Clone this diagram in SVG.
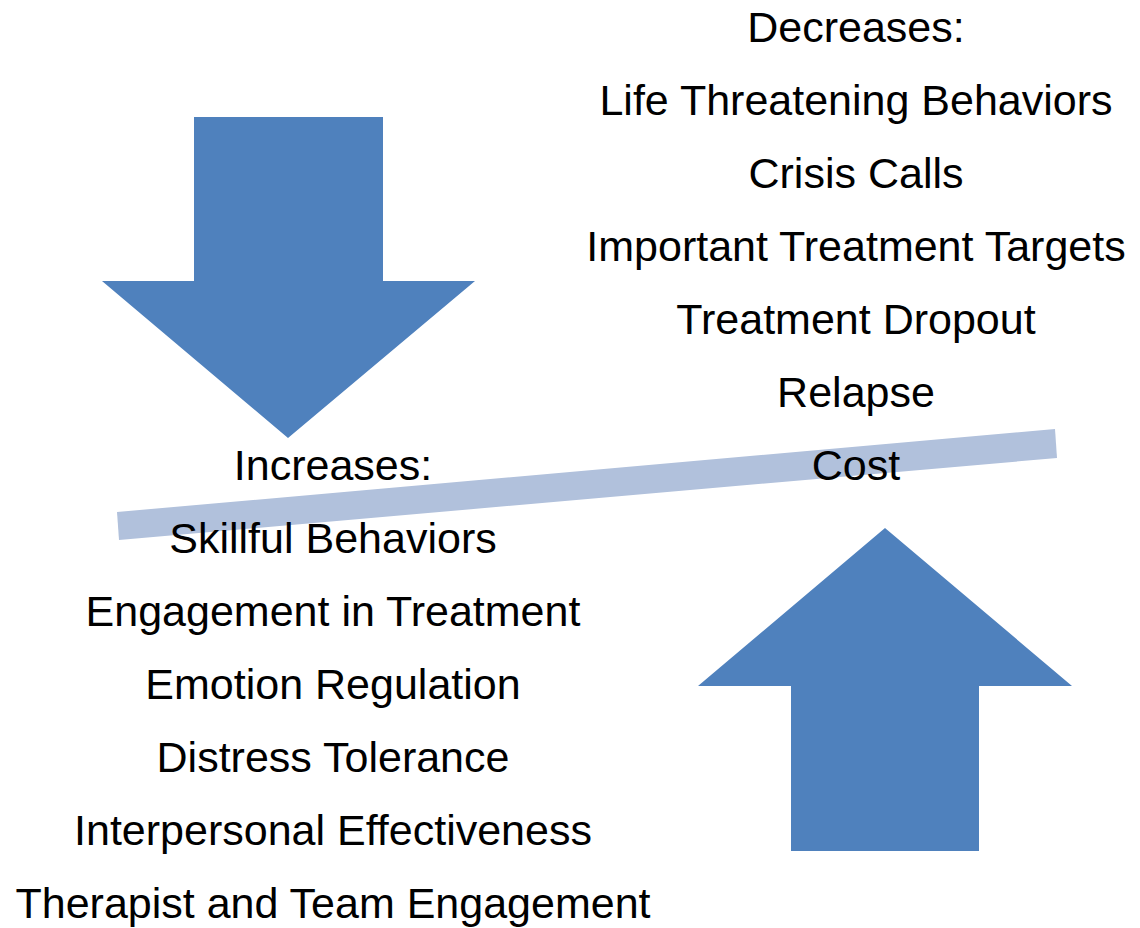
<svg xmlns="http://www.w3.org/2000/svg" width="1140" height="928" viewBox="0 0 1140 928">
<style>
.arrow{fill:#4F81BD;stroke:none}
.bar{fill:#B1C1DC;stroke:none}
.t{font-family:"Liberation Sans",Arial,sans-serif;font-size:43px;fill:#000;text-anchor:middle}
</style>
<rect width="1140" height="928" fill="#FFFFFF"/>
<g id="balance-bar">
<polygon class="bar" points="117,512 1055,429 1057,458 119,540"/>
</g>
<g id="connectors">
<polygon id="arrow-down" class="arrow" points="194,117 383,117 383,281 475,281 288,438 102,281 194,281"/>
<polygon id="arrow-up" class="arrow" points="885,528 1072,686 979,686 979,851 791,851 791,686 698,686"/>
</g>
<g id="decreases">
<text class="t" x="856" y="42">Decreases:</text>
<text class="t" x="856" y="115">Life Threatening Behaviors</text>
<text class="t" x="856" y="188">Crisis Calls</text>
<text class="t" x="856" y="261">Important Treatment Targets</text>
<text class="t" x="856" y="334">Treatment Dropout</text>
<text class="t" x="856" y="407">Relapse</text>
<text class="t" x="856" y="480">Cost</text>
</g>
<g id="increases">
<text class="t" x="333" y="480">Increases:</text>
<text class="t" x="333" y="553">Skillful Behaviors</text>
<text class="t" x="333" y="626">Engagement in Treatment</text>
<text class="t" x="333" y="699">Emotion Regulation</text>
<text class="t" x="333" y="772">Distress Tolerance</text>
<text class="t" x="333" y="845">Interpersonal Effectiveness</text>
<text class="t" x="333" y="918">Therapist and Team Engagement</text>
</g>
</svg>
